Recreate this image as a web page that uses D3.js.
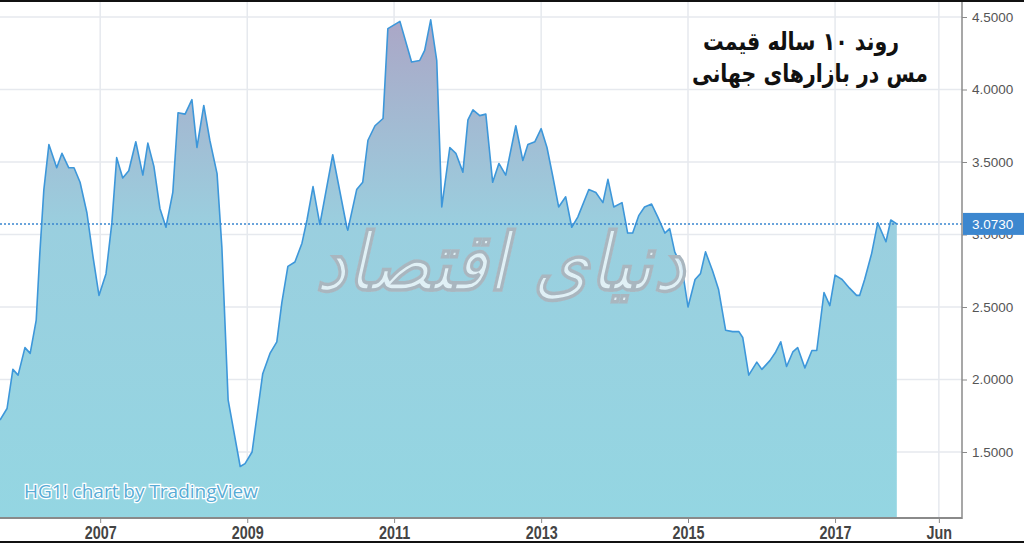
<!DOCTYPE html>
<html><head><meta charset="utf-8">
<script src="https://cdn.jsdelivr.net/npm/d3@7"></script>
<style>
html,body{margin:0;padding:0;background:#fff;overflow:hidden}
svg{display:block}
</style></head>
<body>
<svg id="c" width="1024" height="543"></svg>
<script>
const dates = ["2005-08-21","2005-09-25","2005-10-24","2005-11-19","2005-12-23","2006-01-18","2006-02-17","2006-03-07","2006-03-27","2006-04-21","2006-05-30","2006-06-25","2006-07-29","2006-08-24","2006-09-23","2006-10-27","2006-11-27","2006-12-26","2007-01-30","2007-02-28","2007-03-24","2007-04-23","2007-05-23","2007-06-27","2007-08-01","2007-08-26","2007-09-25","2007-10-25","2007-11-24","2007-12-28","2008-01-23","2008-02-27","2008-04-01","2008-04-26","2008-05-30","2008-06-29","2008-08-04","2008-08-28","2008-09-28","2008-11-27","2008-12-21","2009-01-25","2009-03-19","2009-04-24","2009-05-28","2009-06-22","2009-07-22","2009-08-26","2009-09-30","2009-10-25","2009-11-24","2009-12-28","2010-03-02","2010-05-11","2010-05-16","2010-06-29","2010-07-29","2010-08-24","2010-09-28","2010-11-07","2010-12-01","2011-01-30","2011-03-29","2011-05-08","2011-06-02","2011-07-02","2011-08-01","2011-08-26","2011-10-05","2011-11-04","2011-12-09","2012-01-03","2012-01-28","2012-03-02","2012-04-01","2012-05-05","2012-06-05","2012-07-09","2012-08-28","2012-10-02","2012-10-27","2012-12-01","2013-01-01","2013-01-30","2013-02-28","2013-03-29","2013-05-03","2013-06-02","2013-07-02","2013-08-26","2013-09-30","2013-11-04","2013-11-29","2013-12-28","2014-02-07","2014-03-07","2014-04-01","2014-05-01","2014-05-30","2014-07-04","2014-08-04","2014-09-08","2014-10-02","2014-10-27","2014-12-01","2015-01-01","2015-02-05","2015-03-04","2015-03-29","2015-05-03","2015-06-02","2015-07-07","2015-08-11","2015-09-11","2015-09-30","2015-10-30","2015-12-09","2016-01-03","2016-02-12","2016-03-12","2016-04-06","2016-05-05","2016-06-05","2016-06-29","2016-08-04","2016-09-08","2016-10-02","2016-11-07","2016-12-06","2017-01-01","2017-02-05","2017-03-14","2017-04-18","2017-05-03","2017-05-28","2017-07-02","2017-08-01","2017-09-11","2017-10-05","2017-11-04"];
const prices = [1.72,1.80,2.07,2.03,2.22,2.18,2.41,2.87,3.31,3.62,3.46,3.56,3.46,3.46,3.36,3.15,2.84,2.58,2.73,3.08,3.53,3.39,3.44,3.64,3.41,3.63,3.47,3.18,3.05,3.29,3.84,3.83,3.93,3.60,3.89,3.65,3.42,2.91,1.86,1.40,1.42,1.50,2.04,2.18,2.26,2.53,2.78,2.81,2.94,3.10,3.33,3.07,3.55,3.05,3.03,3.31,3.36,3.65,3.75,3.80,4.42,4.47,4.19,4.20,4.27,4.48,4.20,3.19,3.60,3.56,3.43,3.79,3.86,3.82,3.83,3.36,3.49,3.41,3.75,3.51,3.62,3.64,3.73,3.60,3.40,3.19,3.26,3.05,3.12,3.31,3.29,3.22,3.38,3.19,3.22,3.01,3.01,3.13,3.19,3.21,3.12,3.01,3.04,2.88,2.78,2.50,2.69,2.73,2.88,2.75,2.62,2.34,2.33,2.33,2.29,2.03,2.12,2.07,2.13,2.19,2.26,2.09,2.19,2.22,2.08,2.20,2.20,2.60,2.51,2.72,2.69,2.63,2.58,2.58,2.69,2.87,3.08,2.95,3.10,3.073];
const lastPrice = 3.073;
const xTickDates = ["2007-01-01","2009-01-01","2011-01-01","2013-01-01","2015-01-01","2017-01-01","2018-06-01"];
const xTickLabels = ["2007","2009","2011","2013","2015","2017","Jun"];
const yTicks = [1.5,2.0,2.5,3.0,3.5,4.0,4.5];
const titleLines = ["روند ۱۰ ساله قیمت","مس در بازارهای جهانی"];
const watermark = "دنیای اقتصاد";
const credit = "HG1! chart by TradingView";

const parse = d3.timeParse("%Y-%m-%d");
const data = dates.map((d,i)=>({date:parse(d), v:prices[i]}));

const svg = d3.select("#c");
const plotRight = 962, plotBottom = 517;

const x = d3.scaleTime().domain([parse("2005-08-21"), parse("2018-09-24")]).range([0, plotRight]);
const y = d3.scaleLinear().domain([1.5, 4.5]).range([452, 17]);

// gradient
const defs = svg.append("defs");
const grad = defs.append("linearGradient").attr("id","g").attr("gradientUnits","userSpaceOnUse")
  .attr("x1",0).attr("x2",0).attr("y1",y(4.5)).attr("y2",plotBottom);
grad.append("stop").attr("offset",0).attr("stop-color","#aba6c6");
grad.append("stop").attr("offset",0.42).attr("stop-color","#9acfdf");
grad.append("stop").attr("offset",1).attr("stop-color","#94d6e2");

// grid
const grid = svg.append("g");
grid.selectAll("line.h").data(yTicks).join("line")
  .attr("x1",0).attr("x2",plotRight).attr("y1",d=>y(d)).attr("y2",d=>y(d))
  .attr("stroke","#e6e9ee").attr("stroke-width",1.5);
grid.selectAll("line.v").data(xTickDates).join("line")
  .attr("x1",d=>x(parse(d))).attr("x2",d=>x(parse(d))).attr("y1",0).attr("y2",plotBottom)
  .attr("stroke","#e6e9ee").attr("stroke-width",1.5);

// area
const area = d3.area().x(d=>x(d.date)).y0(plotBottom).y1(d=>y(d.v));
svg.append("path").datum(data).attr("d",area).attr("fill","url(#g)");
const line = d3.line().x(d=>x(d.date)).y(d=>y(d.v));
svg.append("path").datum(data).attr("d",line).attr("fill","none")
  .attr("stroke","#3d97da").attr("stroke-width",1.6).attr("stroke-linejoin","round");

// watermark
svg.append("text").attr("x",500).attr("y",290).attr("text-anchor","middle")
  .attr("font-family","DejaVu Sans").attr("font-weight","bold").attr("font-style","italic")
  .attr("font-size",80).attr("fill","rgba(236,246,249,0.85)").attr("stroke","#a9b6bf").attr("stroke-width",1)
  .attr("textLength",370).attr("lengthAdjust","spacingAndGlyphs")
  .attr("direction","rtl").text(watermark);

// last price dotted line
svg.append("line").attr("x1",0).attr("x2",plotRight).attr("y1",y(lastPrice)).attr("y2",y(lastPrice))
  .attr("stroke","#3a87cf").attr("stroke-width",1.5).attr("stroke-dasharray","2,2");

// credit
svg.append("text").attr("x",24).attr("y",498).attr("font-family","Open Sans").attr("font-size",19)
  .attr("fill","#58acd6").attr("stroke","#ffffff").attr("stroke-width",2.5).attr("paint-order","stroke")
  .attr("textLength",234).attr("lengthAdjust","spacingAndGlyphs")
  .text(credit);

// axes lines
svg.append("line").attr("x1",0).attr("x2",plotRight).attr("y1",plotBottom+1).attr("y2",plotBottom+1)
  .attr("stroke","#8a8a8a").attr("stroke-width",2);
svg.append("line").attr("x1",plotRight).attr("x2",plotRight).attr("y1",0).attr("y2",plotBottom+2)
  .attr("stroke","#8a8a8a").attr("stroke-width",1.5);

// y axis
const yAxis = d3.axisRight(y).tickValues(yTicks).tickFormat(d3.format(".4f")).tickSize(5).tickPadding(5);
const gy = svg.append("g").attr("transform",`translate(${plotRight},0)`).call(yAxis);
gy.select(".domain").remove();
gy.selectAll("line").attr("stroke","#8a8a8a");
gy.selectAll("text").attr("font-family","Liberation Sans, Arial").attr("font-size",13.5).attr("fill","#555");

// last price label
svg.append("rect").attr("x",plotRight+1).attr("y",y(lastPrice)-11).attr("width",62).attr("height",22).attr("fill","#3c87cf");
svg.append("text").attr("x",plotRight+10).attr("y",y(lastPrice)+5).attr("font-family","Liberation Sans, Arial")
  .attr("font-size",13.5).attr("fill","#fff").text(d3.format(".4f")(lastPrice));

// x axis
const xAxis = d3.axisBottom(x).tickValues(xTickDates.map(parse))
  .tickFormat((d,i)=>xTickLabels[i]).tickSize(5).tickPadding(4);
const gx = svg.append("g").attr("transform",`translate(0,${plotBottom+1})`).call(xAxis);
gx.select(".domain").remove();
gx.selectAll("line").attr("stroke","#8a8a8a");
gx.selectAll(".tick text").attr("font-family","Liberation Sans, Arial").attr("font-size",17.5)
  .attr("font-weight","bold").attr("fill","#444")
  .attr("transform","scale(0.82,1)");

// title
const titleWidths = [196, 236];
const tg = svg.append("g").attr("font-family","DejaVu Sans").attr("font-weight","bold").attr("font-size",25)
  .attr("fill","#111").attr("text-anchor","middle").attr("direction","rtl");
tg.selectAll("text").data(titleLines).join("text")
  .attr("x",(d,i)=>i===0?801:810).attr("y",(d,i)=>50+i*32)
  .attr("textLength",(d,i)=>titleWidths[i]).attr("lengthAdjust","spacingAndGlyphs")
  .text(d=>d);

// frame
svg.append("line").attr("x1",0).attr("x2",1024).attr("y1",1).attr("y2",1).attr("stroke","#111").attr("stroke-width",2);
svg.append("line").attr("x1",0).attr("x2",1024).attr("y1",542).attr("y2",542).attr("stroke","#111").attr("stroke-width",2);
</script>
</body></html>
